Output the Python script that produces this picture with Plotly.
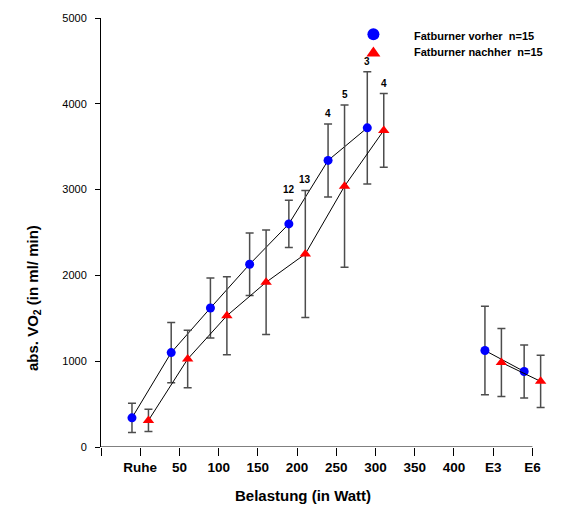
import plotly.graph_objects as go

# ---- data ----
tick_labels = ["", "Ruhe", "50", "100", "150", "200", "250", "300", "350", "400", "E3", "E6"]
categories = ["Ruhe", "50", "100", "150", "200", "250", "300", "E3", "E6"]
vorher_mean = [340, 1100, 1620, 2130, 2600, 3340, 3720, 1125, 880]
vorher_sd = [170, 350, 350, 365, 275, 425, 655, 515, 310]
nachher_mean = [310, 1025, 1530, 1920, 2250, 3040, 3690, 985, 765]
nachher_sd = [130, 335, 455, 610, 740, 945, 430, 395, 305]
vorher_n = {"200": "12", "250": "4", "300": "3"}
nachher_n = {"200": "13", "250": "5", "300": "4"}

FONT = "Arial, Liberation Sans, sans-serif"
OFFSET = 0.21
X_MAX = len(tick_labels) - 1
X_RANGE_MAX = X_MAX + 0.5


def with_breaks(cats, vals, off):
    """Insert a gap between the exercise stages and the recovery values."""
    xs, ys = [], []
    for c, v in zip(cats, vals):
        if c == "E3":
            xs.append(None)
            ys.append(None)
        xs.append(tick_labels.index(c) + off)
        ys.append(v)
    return xs, ys


fig = go.Figure()

for mean, sd, off, color, symbol, size in [
    (vorher_mean, vorher_sd, -OFFSET, "#0000ff", "circle", 9),
    (nachher_mean, nachher_sd, OFFSET, "#ff0000", "triangle-up", 10),
]:
    xs, ys = with_breaks(categories, mean, off)
    _, es = with_breaks(categories, sd, off)
    fig.add_trace(go.Scatter(
        x=xs, y=ys, mode="lines+markers",
        line=dict(color="black", width=1),
        marker=dict(color=color, size=size, symbol=symbol),
        error_y=dict(type="data", array=es, visible=True, color="#4d4d4d",
                     thickness=1.5, width=4),
        cliponaxis=False, showlegend=False,
    ))

annotations = []
for labels, mean, sd, off in [(vorher_n, vorher_mean, vorher_sd, -OFFSET),
                              (nachher_n, nachher_mean, nachher_sd, OFFSET)]:
    for cat, txt in labels.items():
        i = categories.index(cat)
        annotations.append(dict(
            x=tick_labels.index(cat) + off, y=mean[i] + sd[i], xref="x", yref="y",
            text=f"<b>{txt}</b>", showarrow=False, yanchor="bottom", yshift=3,
            font=dict(family=FONT, size=10, color="black")))

# axis titles
annotations.append(dict(x=0.448, y=-0.112, xref="paper", yref="paper",
                        xanchor="center", yanchor="middle",
                        text="<b>Belastung (in Watt)</b>", showarrow=False,
                        font=dict(family=FONT, size=15, color="black")))
annotations.append(dict(x=-0.151, y=0.347, xref="paper", yref="paper", textangle=-90,
                        xanchor="center", yanchor="middle",
                        text="<b>abs. VO<sub>2</sub> (in ml/ min)</b>", showarrow=False,
                        font=dict(family=FONT, size=15, color="black")))

# legend (drawn manually)
leg_items = [("Fatburner vorher\u00a0\u00a0n=15", 0.958), ("Fatburner nachher\u00a0\u00a0n=15", 0.920)]
for txt, yy in leg_items:
    annotations.append(dict(x=0.690, y=yy, xref="paper", yref="paper",
                            xanchor="left", yanchor="middle",
                            text=f"<b>{txt}</b>", showarrow=False,
                            font=dict(family=FONT, size=11, color="black")))

shapes = [
    dict(type="circle", xref="paper", yref="paper", xsizemode="pixel", ysizemode="pixel",
         xanchor=0.604, yanchor=0.962, x0=-6, x1=6, y0=-6, y1=6,
         fillcolor="#0000ff", line=dict(width=0)),
    dict(type="path", xref="paper", yref="paper", xsizemode="pixel", ysizemode="pixel",
         xanchor=0.604, yanchor=0.922, path="M -7,-5 L 7,-5 L 0,5 Z",
         fillcolor="#ff0000", line=dict(width=0)),
    # x axis line, ending at the last category tick
    dict(type="line", xref="x", yref="y", x0=0, x1=X_MAX, y0=0, y1=0,
         line=dict(color="black", width=1), layer="above"),
]

fig.update_layout(
    width=569, height=506,
    margin=dict(l=101, r=17, t=16, b=59),
    paper_bgcolor="white", plot_bgcolor="white",
    annotations=annotations, shapes=shapes,
    xaxis=dict(range=[0, X_RANGE_MAX], tickmode="array",
               tickvals=list(range(len(tick_labels))),
               ticktext=[f"<b>{t}</b>" if t else " " for t in tick_labels],
               showline=False, ticks="outside",
               ticklen=8, tickcolor="black", showgrid=False, zeroline=False,
               tickfont=dict(family=FONT, size=13.5, color="black")),
    yaxis=dict(range=[0, 5000], tickmode="array", tickvals=[0, 1000, 2000, 3000, 4000, 5000],
               showline=True, linecolor="black", linewidth=1, ticks="outside",
               ticklen=5, tickcolor="black", showgrid=False, zeroline=False,
               ticklabelstandoff=6,
               tickfont=dict(family=FONT, size=11, color="black")),
)

fig.write_html("out.html")
